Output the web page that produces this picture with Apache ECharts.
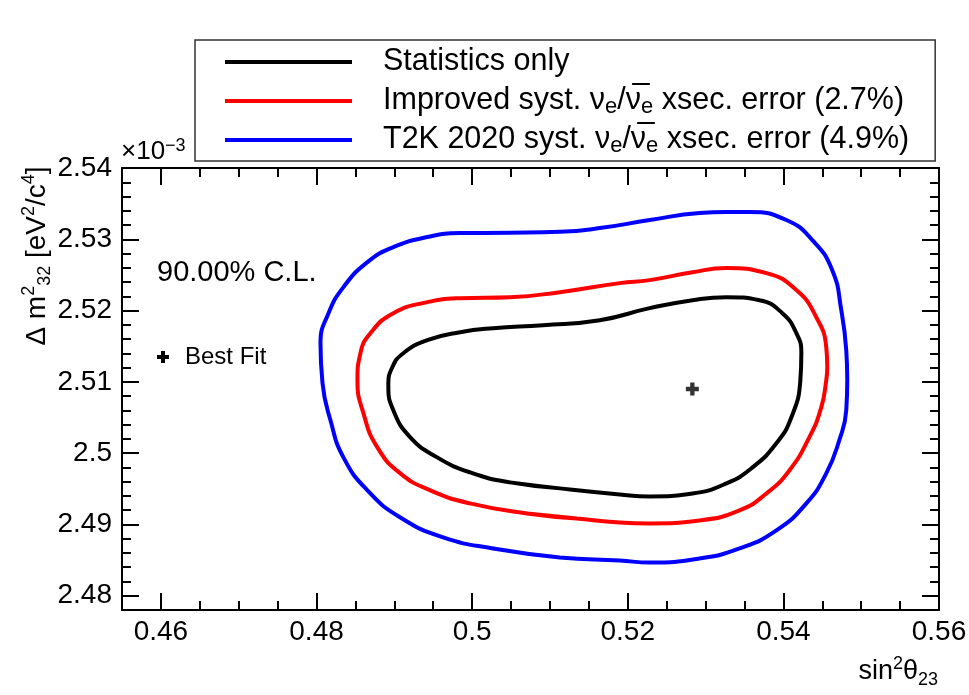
<!DOCTYPE html>
<html>
<head>
<meta charset="utf-8">
<script src="https://cdn.jsdelivr.net/npm/echarts@6/dist/echarts.min.js"></script>
<style>
  html, body { margin: 0; padding: 0; background: #fff; }
  #chart { width: 969px; height: 695px; }
</style>
</head>
<body>
<div id="chart"></div>
<script>
// axis ticks (y in units of 1e-3 eV^2/c^4)
var xMajor = [0.46, 0.48, 0.5, 0.52, 0.54, 0.56];
var yMajor = [2.48, 2.49, 2.5, 2.51, 2.52, 2.53, 2.54];

var seriesNames = [
  'Statistics only',
  'Improved syst. xsec. error (2.7%)',
  'T2K 2020 syst. xsec. error (4.9%)'
];
var seriesColors = ['#000000', '#ff0000', '#0000ff'];

// 90% C.L. contours [sin^2 theta23, dm2_32]
var statOnly = [
  [0.48923, 2.50952], [0.48974, 2.51205], [0.49115, 2.51402], [0.49423, 2.51584],
  [0.49846, 2.51697], [0.50269, 2.51753], [0.5091, 2.51795], [0.51641, 2.51865],
  [0.52282, 2.52034], [0.52833, 2.52146], [0.53269, 2.52188], [0.53692, 2.52146],
  [0.53987, 2.51963], [0.54167, 2.51683], [0.54231, 2.51402], [0.54218, 2.51022],
  [0.54103, 2.50503], [0.5391, 2.50138], [0.53603, 2.498], [0.53269, 2.49576],
  [0.52833, 2.49435], [0.52282, 2.49393], [0.51897, 2.49421], [0.51128, 2.49506],
  [0.50487, 2.4959], [0.49974, 2.4973], [0.49551, 2.49941], [0.49205, 2.50222],
  [0.48987, 2.50601], [0.48923, 2.50952]
];
var improved = [
  [0.48526, 2.51022], [0.48564, 2.51402], [0.48692, 2.51683], [0.48987, 2.51963],
  [0.49423, 2.52118], [0.49846, 2.52174], [0.50487, 2.52188], [0.51128, 2.52258],
  [0.51897, 2.52385], [0.52282, 2.52427], [0.52833, 2.52539], [0.53269, 2.52596],
  [0.53782, 2.52525], [0.54167, 2.52287], [0.54423, 2.51907], [0.54551, 2.51486],
  [0.54564, 2.51205], [0.54551, 2.51022], [0.54487, 2.50643], [0.54333, 2.50222],
  [0.54077, 2.49758], [0.53782, 2.49435], [0.53436, 2.49197], [0.52923, 2.49056],
  [0.52282, 2.49014], [0.51897, 2.49028], [0.51346, 2.49084], [0.50705, 2.49154],
  [0.49974, 2.49295], [0.49462, 2.49478], [0.49077, 2.49716], [0.48782, 2.50081],
  [0.48603, 2.50559], [0.48526, 2.51022]
];
var t2k2020 = [
  [0.48051, 2.51542], [0.48154, 2.51963], [0.48346, 2.52329], [0.48654, 2.5268],
  [0.48987, 2.5289], [0.49423, 2.53031], [0.49846, 2.53087], [0.50487, 2.53092],
  [0.51128, 2.53105], [0.51641, 2.53157], [0.52282, 2.5327], [0.52923, 2.53368],
  [0.53269, 2.53382], [0.53564, 2.53382], [0.54038, 2.5327], [0.54372, 2.52989],
  [0.54628, 2.52567], [0.54744, 2.52006], [0.54808, 2.51444], [0.54821, 2.51022],
  [0.54808, 2.50601], [0.54718, 2.5018], [0.54551, 2.49716], [0.54295, 2.49295],
  [0.5391, 2.48916], [0.53436, 2.48663], [0.52923, 2.48522], [0.52282, 2.48466],
  [0.51897, 2.48494], [0.51128, 2.48537], [0.50269, 2.48663], [0.49628, 2.48818],
  [0.49077, 2.49098], [0.48654, 2.49478], [0.48346, 2.49941], [0.48179, 2.50461],
  [0.48077, 2.5098], [0.48051, 2.51542]
];
var bestFit = [[0.5283, 2.509]];

var font = 'Liberation Sans';
var xMin = 0.455, xMax = 0.56, yMin = 2.478, yMax = 2.54;

// minor ticks
var xMinor = [], yMinor = [];
for (var i = 0; i <= 21; i++) xMinor.push(+(xMin + i * 0.005).toFixed(4));
for (var j = 0; j <= 31; j++) yMinor.push(+(yMin + j * 0.002).toFixed(4));

// start a closed contour at point k (flat part) and run one point past the
// seam, so the smoothing has neighbours on both sides of it
function loopFrom(d, k) {
  var open = d.slice(0, d.length - 1);
  var out = open.slice(k).concat(open.slice(0, k));
  return out.concat([out[0], out[1]]);
}

var legendRich = {
  'Statistics only': 'Statistics only',
  'Improved syst. xsec. error (2.7%)': 'Improved syst. \u03bd{sub|e}/\u03bd\u0305{sub|e} xsec. error (2.7%)',
  'T2K 2020 syst. xsec. error (4.9%)': 'T2K 2020 syst. \u03bd{sub|e}/\u03bd\u0305{sub|e} xsec. error (4.9%)'
};

function xAxisCfg(pos, ticks, len, main) {
  return {
    type: 'value', position: pos, min: xMin, max: xMax,
    splitLine: { show: false },
    axisLine: { show: main, onZero: false, lineStyle: { color: '#000', width: 2 } },
    axisTick: { show: true, inside: true, length: len, customValues: ticks,
      lineStyle: { color: '#000', width: 2 } },
    axisLabel: (pos === 'bottom' && main) ? {
      show: true, customValues: xMajor, fontSize: 28, fontFamily: font, color: '#000', margin: 8
    } : { show: false }
  };
}
function yAxisCfg(pos, ticks, len, main) {
  return {
    type: 'value', position: pos, min: yMin, max: yMax,
    splitLine: { show: false },
    axisLine: { show: main, onZero: false, lineStyle: { color: '#000', width: 2 } },
    axisTick: { show: true, inside: true, length: len, customValues: ticks,
      lineStyle: { color: '#000', width: 2 } },
    axisLabel: (pos === 'left' && main) ? {
      show: true, customValues: yMajor, fontSize: 28, fontFamily: font, color: '#000', margin: 10
    } : { show: false }
  };
}

var chart = echarts.init(document.getElementById('chart'));

var contours = [loopFrom(statOnly, 23), loopFrom(improved, 26), loopFrom(t2k2020, 29)];
var series = contours.map(function (d, k) {
  return {
    name: seriesNames[k], type: 'line', data: d,
    color: seriesColors[k],
    showSymbol: false, symbol: 'none', smooth: 0.5,
    lineStyle: { color: seriesColors[k], width: 4 }
  };
});
series.push({
  name: 'Best Fit', type: 'scatter', data: bestFit,
  symbol: 'path://M4,0H8V4H12V8H8V12H4V8H0V4H4Z', symbolSize: 13,
  itemStyle: { color: '#000' }
});

var option = {
  animation: false,
  backgroundColor: '#fff',
  grid: { left: 122, top: 168, right: 30, bottom: 85, outerBoundsMode: 'none' },
  xAxis: [
    xAxisCfg('bottom', xMajor, 17, true),
    xAxisCfg('bottom', xMinor, 9, false),
    xAxisCfg('top', xMajor, 17, true),
    xAxisCfg('top', xMinor, 9, false)
  ],
  yAxis: [
    yAxisCfg('left', yMajor, 17, true),
    yAxisCfg('left', yMinor, 9, false),
    yAxisCfg('right', yMajor, 17, true),
    yAxisCfg('right', yMinor, 9, false)
  ],
  legend: {
    data: seriesNames,
    orient: 'vertical', left: 195, top: 40,
    padding: [5, 26, 4, 30],
    itemGap: 5, itemWidth: 127, itemHeight: 4, icon: 'rect',
    borderColor: '#333', borderWidth: 1.5, backgroundColor: '#fff',
    selectedMode: false,
    formatter: function (name) { return legendRich[name]; },
    textStyle: {
      fontSize: 30.5, lineHeight: 34, fontFamily: font, color: '#000', padding: [0, 0, 0, 26],
      rich: { sub: { fontSize: 22, lineHeight: 22, verticalAlign: 'bottom', fontFamily: font, color: '#000' } }
    }
  },
  graphic: [
    { type: 'text', x: 121, y: 152, style: {
        text: '\u00d710{sup|\u22123}', fontSize: 26, lineHeight: 30, fontFamily: font, fill: '#000',
        verticalAlign: 'middle',
        rich: { sup: { fontSize: 18, lineHeight: 18, verticalAlign: 'top', fontFamily: font, fill: '#000' } } } },
    { type: 'text', x: 37, y: 256, rotation: Math.PI / 2, style: {
        text: '\u0394 m{sup|2}{sub|32} [eV{sup|2}/c{sup|4}]', fontSize: 28, lineHeight: 34,
        fontFamily: font, fill: '#000', align: 'center', verticalAlign: 'middle',
        rich: {
          sup: { fontSize: 18, lineHeight: 18, verticalAlign: 'top', fontFamily: font, fill: '#000' },
          sub: { fontSize: 18, lineHeight: 18, verticalAlign: 'bottom', fontFamily: font, fill: '#000' }
        } } },
    { type: 'text', x: 938, y: 672, style: {
        text: 'sin{sup|2}\u03b8{sub|23}', fontSize: 27, lineHeight: 34, fontFamily: font, fill: '#000',
        align: 'right', verticalAlign: 'middle',
        rich: {
          sup: { fontSize: 18, lineHeight: 18, verticalAlign: 'top', fontFamily: font, fill: '#000' },
          sub: { fontSize: 18, lineHeight: 18, verticalAlign: 'bottom', fontFamily: font, fill: '#000' }
        } } },
    { type: 'text', x: 157, y: 273, style: {
        text: '90.00% C.L.', fontSize: 29, fontFamily: font, fill: '#000', verticalAlign: 'middle' } },
    { type: 'rect', x: 157, y: 355, shape: { width: 12, height: 4 }, style: { fill: '#000' } },
    { type: 'rect', x: 161, y: 351, shape: { width: 4, height: 12 }, style: { fill: '#000' } },
    { type: 'text', x: 185, y: 357, style: {
        text: 'Best Fit', fontSize: 24, fontFamily: font, fill: '#000', verticalAlign: 'middle' } }
  ],
  series: series
};
chart.setOption(option);
</script>
</body>
</html>
